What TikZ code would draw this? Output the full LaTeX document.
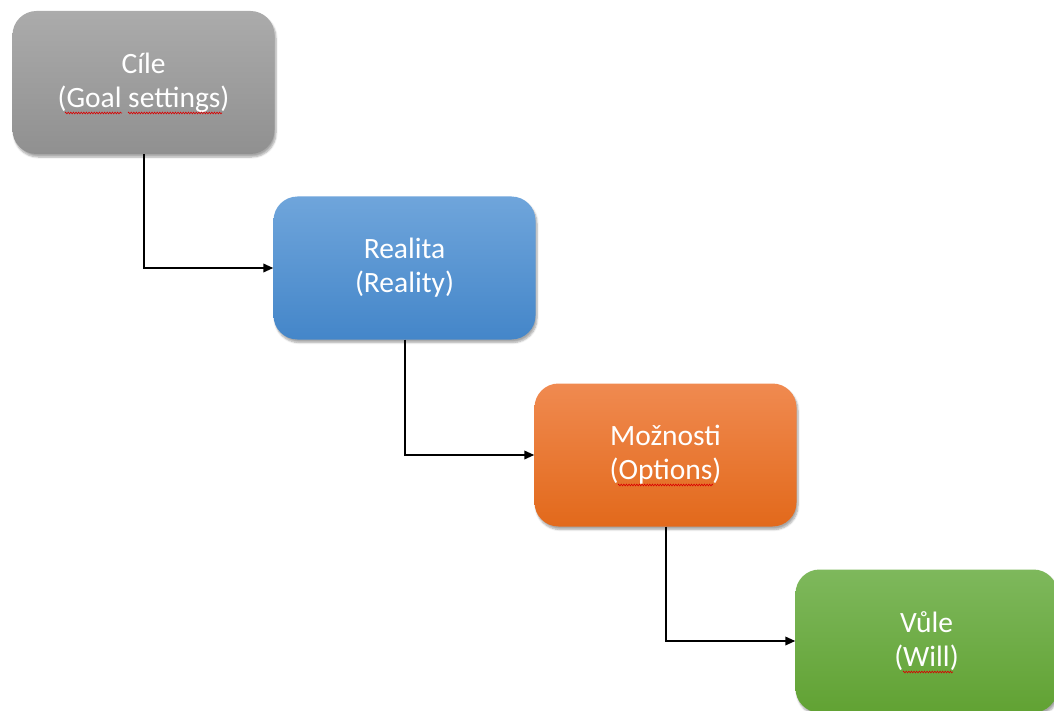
\documentclass[tikz,border=0pt]{standalone}
\usepackage{fontspec}
\setmainfont{Carlito}
\usetikzlibrary{arrows.meta,shadows.blur,decorations.pathmorphing}
\tikzset{
  stepbox/.style={rectangle, rounded corners=24pt, minimum width=262pt, minimum height=143pt,
    text=white, align=center, font=\fontsize{29.5}{34}\selectfont,
    blur shadow={shadow xshift=1.5pt, shadow yshift=-3pt, shadow blur steps=6, shadow opacity=35}},
  grayfill/.style={top color=gray1, bottom color=gray2},
  bluefill/.style={top color=blue1, bottom color=blue2},
  orangefill/.style={top color=orange1, bottom color=orange2},
  greenfill/.style={top color=green1, bottom color=green2},
  conn/.style={draw=black, line width=2pt, -{Triangle[length=10pt,width=8.5pt]}},
  spell/.style={draw=red!85!black, line width=0.6pt, decorate,
    decoration={zigzag, amplitude=0.9pt, segment length=2.6pt}}
}
\definecolor{gray1}{HTML}{ABABAB}
\definecolor{gray2}{HTML}{909090}
\definecolor{blue1}{HTML}{6FA5DB}
\definecolor{blue2}{HTML}{4486C9}
\definecolor{orange1}{HTML}{F08A50}
\definecolor{orange2}{HTML}{E2691B}
\definecolor{green1}{HTML}{7EB85C}
\definecolor{green2}{HTML}{61A233}
\begin{document}
\begin{tikzpicture}[x=1pt,y=-1pt]
\useasboundingbox (0,0) rectangle (1054,711);
\node[stepbox, grayfill] (cile) at (143.5,82.5) {Cíle\\(Goal settings)};
\node[stepbox, bluefill] (realita) at (404.5,268) {Realita\\(Reality)};
\node[stepbox, orangefill] (moznosti) at (665.5,455) {Možnosti\\(Options)};
\node[stepbox, greenfill] (vule) at (926.5,641) {Vůle\\(Will)};
\draw[conn] (cile.south) |- (realita.west);
\draw[conn] (realita.south) |- (moznosti.west);
\draw[conn] (moznosti.south) |- (vule.west);
\coordinate (s1a) at (65,113); \coordinate (s1b) at (122,113);
\coordinate (s2a) at (128,113); \coordinate (s2b) at (222,113);
\coordinate (s3a) at (618,485); \coordinate (s3b) at (713,485);
\coordinate (s4a) at (903,672); \coordinate (s4b) at (953,672);
\draw[spell] (s1a) -- (s1b);
\draw[spell] (s2a) -- (s2b);
\draw[spell] (s3a) -- (s3b);
\draw[spell] (s4a) -- (s4b);
\end{tikzpicture}
\end{document}
